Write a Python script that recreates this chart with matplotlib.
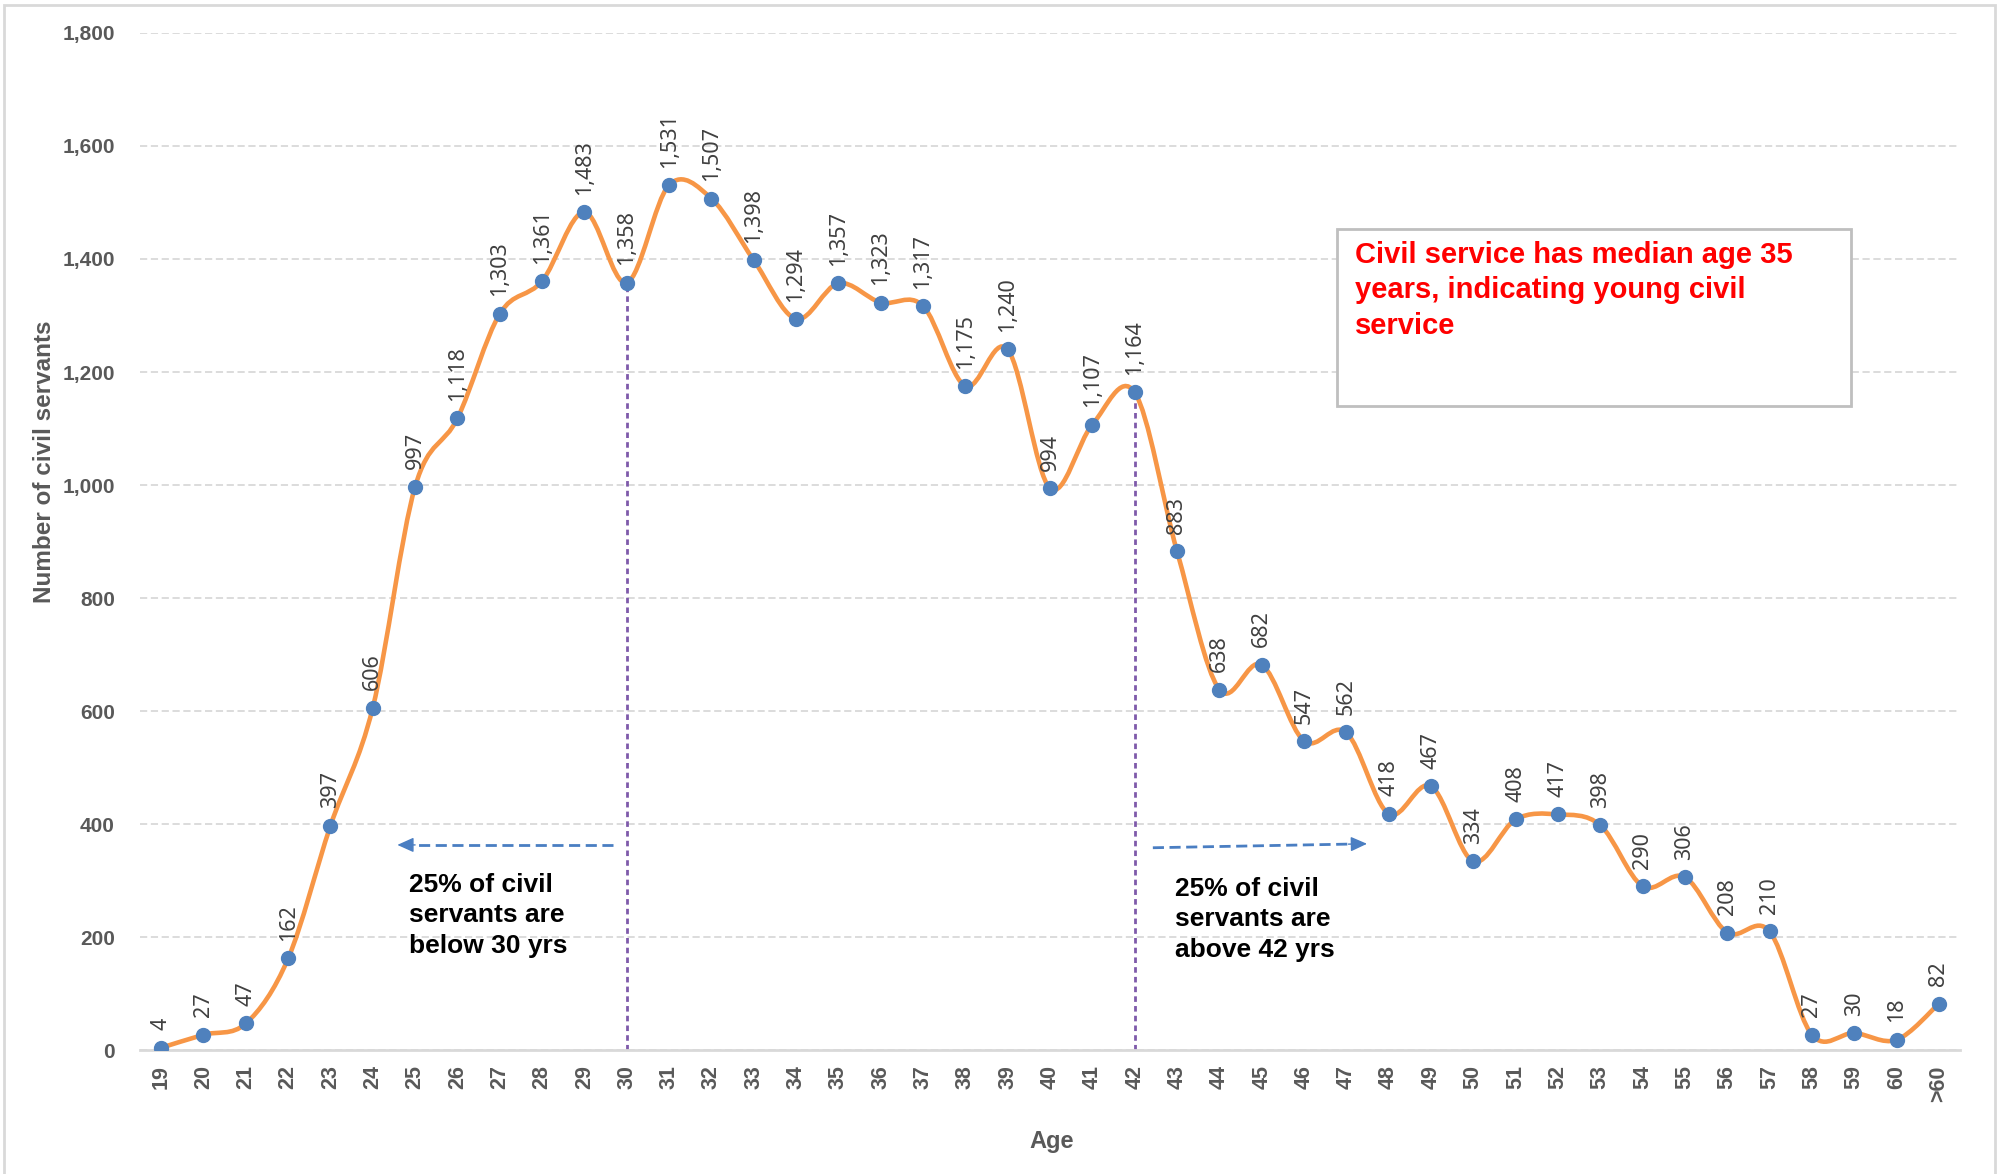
import numpy as np
import matplotlib
matplotlib.use("Agg")
import matplotlib.pyplot as plt
from matplotlib.path import Path
from matplotlib.patches import PathPatch, Rectangle
from matplotlib.ticker import FuncFormatter

ages = [str(a) for a in range(19, 61)] + [">60"]
counts = [4, 27, 47, 162, 397, 606, 997, 1118, 1303, 1361, 1483, 1358, 1531, 1507,
          1398, 1294, 1357, 1323, 1317, 1175, 1240, 994, 1107, 1164, 883, 638, 682,
          547, 562, 418, 467, 334, 408, 417, 398, 290, 306, 208, 210, 27, 30, 18, 82]
yticks = [0, 200, 400, 600, 800, 1000, 1200, 1400, 1600, 1800]
quartile_ages = ["30", "42"]

ORANGE = "#F79646"
BLUE = "#4F81BD"
GRID = "#D9D9D9"
TICK = "#595959"

fig = plt.figure(figsize=(20, 11.74), dpi=100)
ax = fig.add_axes([0.07, 0.1056, 0.91, 0.8663])

x = np.arange(len(counts), dtype=float)
y = np.array(counts, dtype=float)

# smoothed line (Catmull-Rom style Bezier through the data points)
verts = [(x[0], y[0])]
codes = [Path.MOVETO]
n = len(x)
for i in range(n - 1):
    p0 = np.array([x[max(i - 1, 0)], y[max(i - 1, 0)]])
    p1 = np.array([x[i], y[i]])
    p2 = np.array([x[i + 1], y[i + 1]])
    p3 = np.array([x[min(i + 2, n - 1)], y[min(i + 2, n - 1)]])
    c1 = p1 + (p2 - p0) / 6.0
    c2 = p2 - (p3 - p1) / 6.0
    verts += [tuple(c1), tuple(c2), tuple(p2)]
    codes += [Path.CURVE4] * 3
ax.add_patch(PathPatch(Path(verts, codes), facecolor="none", edgecolor=ORANGE,
                       lw=3.3, zorder=3, capstyle="round", joinstyle="round"))
ax.plot(x, y, linestyle="none", marker="o", markersize=10, color=BLUE,
        markeredgecolor=BLUE, zorder=4)

for xi, yi in zip(x, counts):
    ax.annotate(f"{yi:,}", (xi, yi), xytext=(0, 12.5), textcoords="offset points",
                rotation=90, ha="center", va="bottom", fontsize=15.5,
                color="#404040", family="Noto Sans", zorder=5)

# quartile lines
for qa in quartile_ages:
    qi = ages.index(qa)
    ax.plot([qi, qi], [0, counts[qi]], linestyle=(0, (2, 1.5)), color="#7E5AAA",
            lw=2, zorder=2)

ax.set_xlim(-0.5, len(counts) - 0.5)
ax.set_ylim(0, 1800)
ax.set_xticks(x)
ax.set_xticklabels(ages, rotation=90, fontsize=15.5, fontweight="bold",
                   color=TICK, family="Liberation Sans")
ax.set_yticks(yticks)
ax.yaxis.set_major_formatter(FuncFormatter(lambda v, p: f"{int(v):,}"))
for lab in ax.get_yticklabels():
    lab.set_fontsize(15)
    lab.set_fontweight("bold")
    lab.set_color(TICK)
    lab.set_family("Liberation Sans")
ax.tick_params(axis="both", length=0)
ax.tick_params(axis="y", pad=18)
ax.tick_params(axis="x", pad=11)
ax.grid(axis="y", color=GRID, linestyle=(0, (4, 2)), lw=1.3, zorder=0)
ax.set_axisbelow(True)
for s in ["top", "right", "left"]:
    ax.spines[s].set_visible(False)
ax.spines["bottom"].set_color(GRID)
ax.spines["bottom"].set_linewidth(2)

# arrows
ARROW = "#4A7EC2"
ax.plot([10.68, 5.95], [363, 363], linestyle=(0, (4, 2)), color=ARROW, lw=2, zorder=3)
ax.annotate("", xy=(5.58, 363), xytext=(6.0, 363),
            arrowprops=dict(arrowstyle="-|>,head_length=1.0,head_width=0.45",
                            color=ARROW, lw=1, shrinkA=0, shrinkB=0))
ax.plot([23.43, 28.1], [358, 364.5], linestyle=(0, (4, 2)), color=ARROW, lw=2, zorder=3)
ax.annotate("", xy=(28.49, 365), xytext=(28.05, 364.4),
            arrowprops=dict(arrowstyle="-|>,head_length=1.0,head_width=0.45",
                            color=ARROW, lw=1, shrinkA=0, shrinkB=0))

fig.text(0.2045, 1 - 873 / 1174, "25% of civil\nservants are\nbelow 30 yrs",
         fontsize=19, fontweight="bold", color="black", family="Liberation Sans",
         ha="left", va="top", linespacing=1.33)
fig.text(0.5875, 1 - 877 / 1174, "25% of civil\nservants are\nabove 42 yrs",
         fontsize=19, fontweight="bold", color="black", family="Liberation Sans",
         ha="left", va="top", linespacing=1.33)

# red note box
fig.patches.append(Rectangle((0.6685, 0.6542), 0.257, 0.1508, transform=fig.transFigure,
                             facecolor="white", edgecolor="#BFBFBF", lw=2, zorder=5))
fig.text(0.6775, 1 - 241 / 1174,
         "Civil service has median age 35\nyears, indicating young civil\nservice",
         fontsize=21, fontweight="bold", color="#FF0000", family="Liberation Sans",
         ha="left", va="top", linespacing=1.33, zorder=6)

fig.text(0.0225, 0.6065, "Number of civil servants", rotation=90, fontsize=17.5,
         fontweight="bold", color=TICK, family="Liberation Sans", ha="center", va="center")
fig.text(0.526, 0.0273, "Age", fontsize=17, fontweight="bold", color=TICK,
         family="Liberation Sans", ha="center", va="center")

# outer frame
fig.patches.append(Rectangle((0.002, -0.01), 0.9955, 1 - 5 / 1174 + 0.01,
                             transform=fig.transFigure, facecolor="none",
                             edgecolor="#D9D9D9", lw=2))

fig.savefig("out.png", dpi=100)
